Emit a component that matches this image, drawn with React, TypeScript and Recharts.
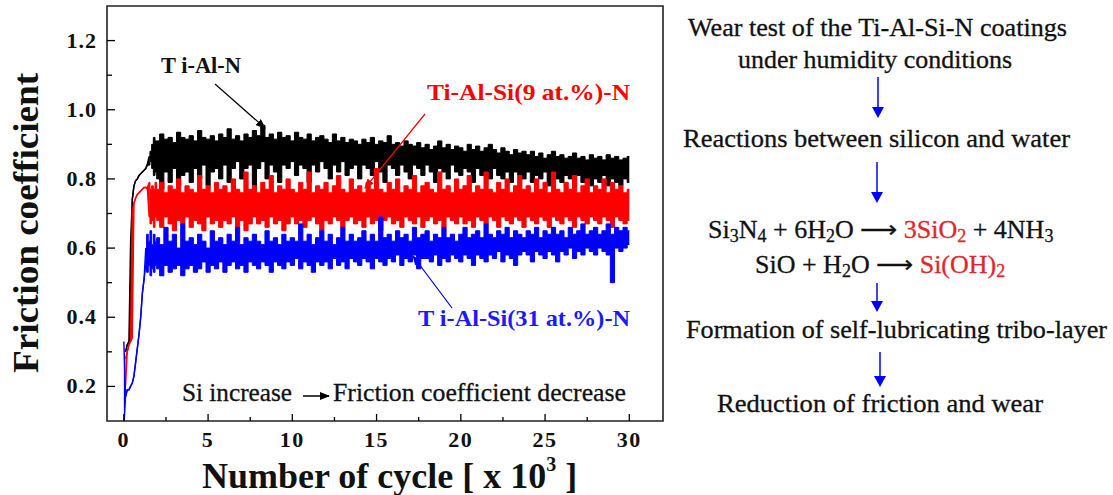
import React from "react";
import { ComposedChart, Area, XAxis, YAxis, ReferenceArea } from "recharts";

// sampling positions (x 10^3 cycles): fine steps during run-in, then every 0.25
const startCycles = [0, 0.1, 0.2, 0.3, 0.4, 0.5, 0.6, 0.7, 0.8, 0.9, 1.0, 1.1, 1.2, 1.3, 1.4, 1.5, 1.6, 1.7, 1.8, 1.9];
const bandCycles = Array.from({ length: 113 }, (_, i) => 2 + i * 0.25);

// Ti-Al-N (black) envelope
const tiAlNStartLow = [null, 0.30, 0.32, 0.33, 0.34, 0.74, 0.78, 0.795, 0.80, 0.81, 0.815, 0.82, 0.825, 0.83, 0.84, 0.84, 0.85, 0.83, 0.81, 0.82];
const tiAlNStartHigh = [null, 0.30, 0.32, 0.33, 0.62, 0.74, 0.78, 0.795, 0.80, 0.81, 0.815, 0.82, 0.825, 0.83, 0.845, 0.865, 0.88, 0.90, 0.92, 0.91];
const tiAlNHigh = [
  0.91, 0.93, 0.915, 0.92, 0.905, 0.935, 0.92, 0.915,
  0.925, 0.91, 0.94, 0.92, 0.915, 0.925, 0.91, 0.93,
  0.92, 0.945, 0.915, 0.925, 0.91, 0.93, 0.92, 0.94,
  0.925, 0.955, 0.92, 0.93, 0.915, 0.935, 0.92, 0.925,
  0.91, 0.935, 0.92, 0.915, 0.93, 0.91, 0.92, 0.925,
  0.915, 0.905, 0.93, 0.91, 0.92, 0.905, 0.915, 0.91,
  0.9, 0.915, 0.905, 0.92, 0.9, 0.91, 0.905, 0.925,
  0.9, 0.905, 0.895, 0.91, 0.9, 0.895, 0.905, 0.89,
  0.9, 0.885, 0.895, 0.91, 0.89, 0.9, 0.885, 0.895,
  0.89, 0.88, 0.9, 0.885, 0.895, 0.88, 0.89, 0.9,
  0.885, 0.875, 0.89, 0.88, 0.87, 0.885, 0.875, 0.88,
  0.87, 0.88, 0.865, 0.875, 0.86, 0.87, 0.88, 0.865,
  0.87, 0.86, 0.865, 0.875, 0.86, 0.865, 0.855, 0.87,
  0.86, 0.865, 0.855, 0.87, 0.86, 0.865, 0.855, 0.86,
  0.865,
];
const tiAlNLow = [
  0.80, 0.77, 0.82, 0.79, 0.83, 0.78, 0.81, 0.82,
  0.79, 0.83, 0.80, 0.84, 0.78, 0.82, 0.83, 0.80,
  0.84, 0.79, 0.83, 0.85, 0.80, 0.83, 0.84, 0.78,
  0.83, 0.85, 0.80, 0.84, 0.82, 0.79, 0.84, 0.83,
  0.85, 0.81, 0.84, 0.83, 0.79, 0.84, 0.82, 0.85,
  0.83, 0.80, 0.84, 0.82, 0.85, 0.81, 0.83, 0.84,
  0.80, 0.84, 0.83, 0.81, 0.85, 0.82, 0.79, 0.84,
  0.83, 0.81, 0.84, 0.82, 0.80, 0.84, 0.83, 0.81,
  0.84, 0.82, 0.79, 0.83, 0.82, 0.80, 0.84, 0.82,
  0.81, 0.83, 0.82, 0.79, 0.83, 0.81, 0.82, 0.80,
  0.83, 0.81, 0.80, 0.82, 0.79, 0.82, 0.81, 0.80,
  0.82, 0.79, 0.81, 0.80, 0.82, 0.78, 0.81, 0.80,
  0.79, 0.81, 0.80, 0.78, 0.81, 0.79, 0.80, 0.78,
  0.80, 0.79, 0.81, 0.78, 0.80, 0.79, 0.78, 0.80,
  0.79,
];

// Ti-Al-Si(9 at.%)-N (red) envelope
const si9StartLow = [null, 0.20, 0.30, 0.32, 0.33, 0.34, 0.73, 0.745, 0.755, 0.76, 0.765, 0.77, 0.775, 0.775, 0.77, 0.69, 0.67, 0.68, 0.66, 0.69];
const si9StartHigh = [null, 0.28, 0.30, 0.32, 0.33, 0.71, 0.73, 0.745, 0.755, 0.76, 0.765, 0.77, 0.775, 0.775, 0.775, 0.79, 0.77, 0.78, 0.77, 0.79];
const si9High = [
  0.77, 0.79, 0.76, 0.78, 0.77, 0.80, 0.76, 0.78,
  0.77, 0.76, 0.81, 0.77, 0.78, 0.76, 0.79, 0.77,
  0.78, 0.76, 0.80, 0.77, 0.76, 0.82, 0.77, 0.78,
  0.76, 0.79, 0.77, 0.81, 0.76, 0.78, 0.77, 0.80,
  0.77, 0.76, 0.79, 0.77, 0.82, 0.76, 0.78, 0.77,
  0.79, 0.76, 0.78, 0.81, 0.77, 0.76, 0.80, 0.77,
  0.78, 0.76, 0.79, 0.77, 0.83, 0.77, 0.76, 0.79,
  0.77, 0.80, 0.76, 0.78, 0.77, 0.81, 0.76, 0.78,
  0.79, 0.77, 0.76, 0.82, 0.77, 0.78, 0.76, 0.80,
  0.77, 0.78, 0.81, 0.76, 0.78, 0.77, 0.82, 0.77,
  0.76, 0.79, 0.77, 0.80, 0.76, 0.78, 0.81, 0.77,
  0.78, 0.76, 0.80, 0.77, 0.79, 0.76, 0.82, 0.77,
  0.76, 0.79, 0.77, 0.81, 0.76, 0.78, 0.80, 0.76,
  0.78, 0.77, 0.80, 0.76, 0.79, 0.77, 0.78, 0.76,
  0.77,
];
const si9Low = [
  0.68, 0.66, 0.69, 0.67, 0.65, 0.68, 0.67, 0.69,
  0.66, 0.68, 0.67, 0.65, 0.69, 0.67, 0.68, 0.66,
  0.68, 0.67, 0.69, 0.66, 0.68, 0.65, 0.67, 0.69,
  0.67, 0.68, 0.66, 0.69, 0.67, 0.68, 0.65, 0.67,
  0.69, 0.67, 0.68, 0.66, 0.68, 0.69, 0.67, 0.65,
  0.68, 0.67, 0.69, 0.68, 0.66, 0.68, 0.69, 0.67,
  0.68, 0.66, 0.69, 0.67, 0.68, 0.65, 0.68, 0.69,
  0.67, 0.68, 0.66, 0.69, 0.68, 0.67, 0.69, 0.66,
  0.68, 0.69, 0.67, 0.68, 0.66, 0.69, 0.68, 0.67,
  0.69, 0.67, 0.68, 0.66, 0.69, 0.68, 0.67, 0.69,
  0.68, 0.66, 0.69, 0.68, 0.67, 0.69, 0.68, 0.66,
  0.69, 0.68, 0.67, 0.69, 0.68, 0.66, 0.69, 0.68,
  0.67, 0.69, 0.68, 0.66, 0.69, 0.68, 0.67, 0.69,
  0.68, 0.67, 0.69, 0.68, 0.66, 0.69, 0.68, 0.67,
  0.68,
];

// Ti-Al-Si(31 at.%)-N (blue) envelope
const si31StartLow = [0.08, 0.17, 0.19, 0.19, 0.20, 0.21, 0.23, 0.27, 0.31, 0.35, 0.40, 0.47, 0.51, 0.55, 0.53, 0.55, 0.52, 0.54, 0.53, 0.55];
const si31StartHigh = [0.33, 0.17, 0.19, 0.19, 0.20, 0.21, 0.23, 0.27, 0.31, 0.35, 0.40, 0.47, 0.51, 0.60, 0.64, 0.62, 0.65, 0.61, 0.64, 0.62];
const si31High = [
  0.63, 0.61, 0.66, 0.62, 0.64, 0.60, 0.67, 0.62,
  0.63, 0.61, 0.64, 0.62, 0.60, 0.65, 0.62, 0.63,
  0.61, 0.64, 0.62, 0.66, 0.61, 0.63, 0.62, 0.64,
  0.62, 0.61, 0.65, 0.62, 0.63, 0.61, 0.64, 0.62,
  0.63, 0.62, 0.67, 0.62, 0.64, 0.61, 0.63, 0.65,
  0.62, 0.64, 0.61, 0.63, 0.66, 0.62, 0.64, 0.62,
  0.63, 0.65, 0.62, 0.64, 0.62, 0.69, 0.63, 0.64,
  0.62, 0.65, 0.63, 0.64, 0.62, 0.66, 0.63, 0.64,
  0.65, 0.62, 0.64, 0.63, 0.66, 0.63, 0.64, 0.62,
  0.64, 0.66, 0.63, 0.64, 0.65, 0.63, 0.67, 0.64,
  0.63, 0.65, 0.64, 0.66, 0.63, 0.65, 0.64, 0.63,
  0.65, 0.64, 0.66, 0.63, 0.65, 0.64, 0.66, 0.64,
  0.65, 0.63, 0.66, 0.64, 0.65, 0.67, 0.64, 0.65,
  0.66, 0.64, 0.65, 0.67, 0.64, 0.66, 0.65, 0.66,
  0.65,
];
const si31Low = [
  0.54, 0.52, 0.55, 0.53, 0.54, 0.55, 0.52, 0.54,
  0.55, 0.53, 0.54, 0.56, 0.53, 0.55, 0.54, 0.56,
  0.53, 0.55, 0.56, 0.54, 0.55, 0.53, 0.56, 0.55,
  0.54, 0.56, 0.55, 0.53, 0.56, 0.55, 0.54, 0.56,
  0.55, 0.57, 0.54, 0.56, 0.55, 0.53, 0.56, 0.55,
  0.56, 0.54, 0.57, 0.55, 0.56, 0.54, 0.57, 0.56,
  0.55, 0.57, 0.56, 0.54, 0.57, 0.56, 0.55, 0.57,
  0.56, 0.58, 0.55, 0.57, 0.56, 0.58, 0.54, 0.57,
  0.57, 0.56, 0.58, 0.55, 0.57, 0.56, 0.58, 0.57,
  0.56, 0.58, 0.57, 0.55, 0.58, 0.57, 0.56, 0.58,
  0.57, 0.59, 0.56, 0.58, 0.57, 0.55, 0.58, 0.59,
  0.58, 0.56, 0.59, 0.58, 0.57, 0.59, 0.58, 0.56,
  0.59, 0.58, 0.60, 0.57, 0.59, 0.58, 0.60, 0.59,
  0.58, 0.60, 0.59, 0.58, 0.50, 0.60, 0.59, 0.60,
  0.61,
];

const xTicks = [0, 2.5, 5, 7.5, 10, 12.5, 15, 17.5, 20, 22.5, 25, 27.5, 30];
const yTicks = [0.2, 0.3, 0.4, 0.5, 0.6, 0.7, 0.8, 0.9, 1.0, 1.1, 1.2];

const cycles = [...startCycles, ...bandCycles];

const blackLo = [...tiAlNStartLow, ...tiAlNLow];
const blackHi = [...tiAlNStartHigh, ...tiAlNHigh];
const redLo = [...si9StartLow, ...si9Low];
const redHi = [...si9StartHigh, ...si9High];
const blueLo = [...si31StartLow, ...si31Low];
const blueHi = [...si31StartHigh, ...si31High];

// run-in part is drawn as a plain line, the noisy plateau as a stepped band
const pair = (lo: (number | null)[], hi: (number | null)[], i: number, keep: boolean) =>
  !keep || lo[i] == null || hi[i] == null ? null : [lo[i], hi[i]];

const data = cycles.map((x, i) => ({
  x,
  tiAlNRun: pair(blackLo, blackHi, i, i <= 15),
  tiAlN: pair(blackLo, blackHi, i, i >= 15),
  si9Run: pair(redLo, redHi, i, i <= 15),
  si9: pair(redLo, redHi, i, i >= 15),
  si31Run: pair(blueLo, blueHi, i, i <= 13),
  si31: pair(blueLo, blueHi, i, i >= 13),
}));

const SERIF = "Liberation Serif, Times New Roman, serif";

const XTick = (props: any) => {
  const { x, y, payload } = props;
  const v = payload.value;
  const major = v % 5 === 0;
  return (
    <g>
      <line x1={x} x2={x} y1={y} y2={y - (major ? 7 : 4)} stroke="#000" strokeWidth={1.3} />
      {major && (
        <text x={x} y={y + 26} textAnchor="middle" style={{ fontFamily: SERIF }} fontWeight="bold" fontSize={22} fill="#111" letterSpacing={1.5}>
          {v}
        </text>
      )}
    </g>
  );
};

const YTick = (props: any) => {
  const { x, y, payload } = props;
  const v = payload.value;
  const major = Math.round(v * 10) % 2 === 0;
  return (
    <g>
      <line x1={x} x2={x + (major ? 8 : 5)} y1={y} y2={y} stroke="#000" strokeWidth={1.3} />
      {major && (
        <text x={x - 10} y={y + 7} textAnchor="end" style={{ fontFamily: SERIF }} fontWeight="bold" fontSize={22} fill="#111" letterSpacing={1}>
          {v.toFixed(1)}
        </text>
      )}
    </g>
  );
};

const BlueArrow = ({ x, y1, y2 }: { x: number; y1: number; y2: number }) => (
  <g>
    <line x1={x} x2={x} y1={y1} y2={y2 - 10} stroke="#0000ff" strokeWidth={1.5} />
    <polygon points={`${x - 6},${y2 - 11} ${x + 6},${y2 - 11} ${x},${y2}`} fill="#0000ff" />
  </g>
);

function Annotations() {
  const txt = { fontSize: 25, fill: "#111", stroke: "#111", strokeWidth: 0.3 };
  const red = "#e3262b";
  return (
    <svg width={1113} height={495} style={{ position: "absolute", left: 0, top: 0, pointerEvents: "none", fontFamily: SERIF }}>
      <defs>
        <marker id="ah-k" markerWidth="10" markerHeight="8" refX="9" refY="4" orient="auto" markerUnits="userSpaceOnUse">
          <path d="M0,0 L10,4 L0,8 Z" fill="#000" />
        </marker>
        <marker id="ah-r" markerWidth="10" markerHeight="8" refX="9" refY="4" orient="auto" markerUnits="userSpaceOnUse">
          <path d="M0,0 L10,4 L0,8 Z" fill="#ff0000" />
        </marker>
        <marker id="ah-b" markerWidth="10" markerHeight="8" refX="9" refY="4" orient="auto" markerUnits="userSpaceOnUse">
          <path d="M0,0 L10,4 L0,8 Z" fill="#0000ff" />
        </marker>
      </defs>

      {/* axis titles */}
      <text transform="translate(38,223) rotate(-90)" textAnchor="middle" fontWeight="bold" fontSize={36} fill="#111" textLength={300} lengthAdjust="spacingAndGlyphs">
        Friction coefficient
      </text>
      <text x={202} y={488} fontWeight="bold" fontSize={36} fill="#111">
        Number of cycle [ x 10
        <tspan fontSize={20} dy={-17}>3</tspan>
        <tspan dy={17}> ]</tspan>
      </text>

      {/* series labels */}
      <text x={161} y={73} fontWeight="bold" fontSize={23} fill="#111" textLength={80} lengthAdjust="spacingAndGlyphs">
        T i-Al-N
      </text>
      <line x1={215} y1={84} x2={265} y2={128} stroke="#000" strokeWidth={1.2} markerEnd="url(#ah-k)" />
      <text x={427} y={100} fontWeight="bold" fontSize={23} fill="#ff0000" textLength={203} lengthAdjust="spacingAndGlyphs">
        Ti-Al-Si(9 at.%)-N
      </text>
      <line x1={425} y1={114} x2={365} y2={188} stroke="#ff0000" strokeWidth={1.2} markerEnd="url(#ah-r)" />
      <text x={418} y={326} fontWeight="bold" fontSize={23} fill="#1a1aff" textLength={212} lengthAdjust="spacingAndGlyphs">
        T i-Al-Si(31 at.%)-N
      </text>
      <line x1={452} y1={308} x2={413} y2={256} stroke="#0000ff" strokeWidth={1.2} markerEnd="url(#ah-b)" />

      <text x={182} y={401} {...txt} textLength={110} lengthAdjust="spacingAndGlyphs">
        Si increase
      </text>
      <line x1={303} y1={396} x2={329} y2={396} stroke="#000" strokeWidth={1.5} markerEnd="url(#ah-k)" />
      <text x={333} y={401} {...txt} textLength={293} lengthAdjust="spacingAndGlyphs">
        Friction coefficient decrease
      </text>

      {/* mechanism flow */}
      <text x={688} y={36} {...txt} textLength={379} lengthAdjust="spacingAndGlyphs">
        Wear test of the Ti-Al-Si-N  coatings
      </text>
      <text x={738} y={68} {...txt} textLength={274} lengthAdjust="spacingAndGlyphs">
        under humidity  conditions
      </text>
      <BlueArrow x={878} y1={77} y2={118} />
      <text x={683} y={147} {...txt} textLength={387} lengthAdjust="spacingAndGlyphs">
        Reactions  between  silicon  and water
      </text>
      <BlueArrow x={877} y1={162} y2={203} />
      <text x={708} y={238} {...txt} fontSize={26}>
        Si<tspan fontSize={18} dy={4}>3</tspan>
        <tspan dy={-4}>N</tspan>
        <tspan fontSize={18} dy={4}>4</tspan>
        <tspan dy={-4}> + 6H</tspan>
        <tspan fontSize={18} dy={4}>2</tspan>
        <tspan dy={-4}>O ⟶ </tspan>
        <tspan fill={red} stroke={red}>3SiO</tspan>
        <tspan fill={red} stroke={red} fontSize={18} dy={4}>2</tspan>
        <tspan dy={-4}> + 4NH</tspan>
        <tspan fontSize={18} dy={4}>3</tspan>
      </text>
      <text x={755} y={273} {...txt} fontSize={26}>
        SiO + H<tspan fontSize={18} dy={4}>2</tspan>
        <tspan dy={-4}>O ⟶ </tspan>
        <tspan fill={red} stroke={red}>Si(OH)</tspan>
        <tspan fill={red} stroke={red} fontSize={18} dy={4}>2</tspan>
      </text>
      <BlueArrow x={877} y1={283} y2={312} />
      <text x={686} y={338} {...txt} textLength={421} lengthAdjust="spacingAndGlyphs">
        Formation  of self-lubricating  tribo-layer
      </text>
      <BlueArrow x={880} y1={352} y2={387} />
      <text x={717} y={412} {...txt} textLength={326} lengthAdjust="spacingAndGlyphs">
        Reduction  of friction  and wear
      </text>
    </svg>
  );
}

const seriesStyle = (color: string) => ({
  stroke: color,
  fill: color,
  fillOpacity: 1,
  isAnimationActive: false,
  dot: false,
  activeDot: false,
});

export default function App() {
  return (
    <div style={{ position: "absolute", left: 0, top: 0, width: 1113, height: 495, background: "#fff" }}>
      <ComposedChart width={1113} height={495} data={data} margin={{ top: 6, right: 450, bottom: 0, left: 0 }}>
        <XAxis
          dataKey="x"
          type="number"
          domain={[-1, 32]}
          allowDataOverflow
          ticks={xTicks}
          tick={<XTick />}
          tickSize={0}
          tickMargin={0}
          tickLine={false}
          axisLine={false}
          height={74}
          interval={0}
        />
        <YAxis
          type="number"
          domain={[0.1, 1.3]}
          allowDataOverflow
          ticks={yTicks}
          tick={<YTick />}
          tickSize={0}
          tickMargin={0}
          tickLine={false}
          axisLine={false}
          width={107}
          interval={0}
        />
        <Area dataKey="tiAlNRun" type="linear" strokeWidth={1.4} {...seriesStyle("#000")} isAnimationActive={false} />
        <Area dataKey="tiAlN" type="step" strokeWidth={1} {...seriesStyle("#000")} isAnimationActive={false} />
        <Area dataKey="si9Run" type="linear" strokeWidth={1.4} {...seriesStyle("#ff0000")} isAnimationActive={false} />
        <Area dataKey="si9" type="step" strokeWidth={1} {...seriesStyle("#ff0000")} isAnimationActive={false} />
        <Area dataKey="si31Run" type="linear" strokeWidth={1.4} {...seriesStyle("#0000ff")} isAnimationActive={false} />
        <Area dataKey="si31" type="step" strokeWidth={1} {...seriesStyle("#0000ff")} isAnimationActive={false} />
        <ReferenceArea x1={-1} x2={32} y1={0.1} y2={1.3} fill="none" stroke="#222" strokeWidth={1.6} ifOverflow="visible" />
      </ComposedChart>
      <Annotations />
    </div>
  );
}
